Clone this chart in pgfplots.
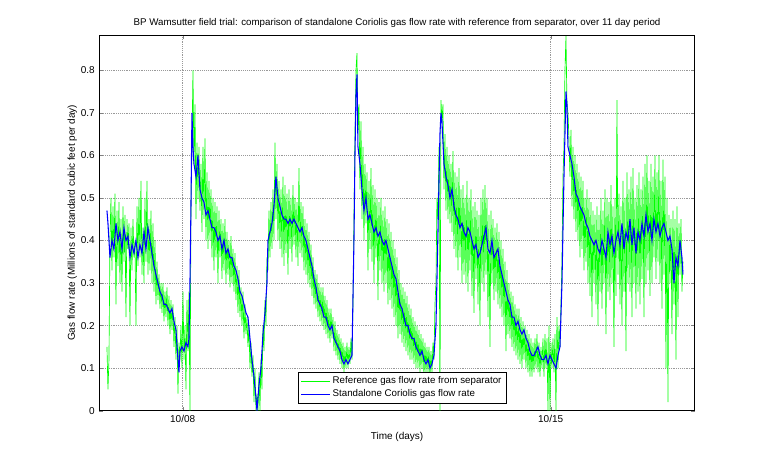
\documentclass[border=0pt]{standalone}
\usepackage{pgfplots}
\pgfplotsset{compat=1.18}
\usepackage{fontspec}
\setmainfont{Liberation Sans}
\definecolor{mgreen}{rgb}{0,1,0}
\definecolor{mblue}{rgb}{0,0,1}
\begin{document}
\begin{tikzpicture}
\useasboundingbox (0,0) rectangle (576pt,346.5pt);
\begin{axis}[
  at={(74.6pt,38.5pt)}, anchor=south west,
  scale only axis, width=446.4pt, height=281.8pt,
  xmin=99.5, xmax=694.7, ymin=0, ymax=0.883,
  xtick={182.7,550.7}, xticklabels={10/08,10/15},
  ytick={0,0.1,...,0.8},
  yticklabel style={/pgf/number format/fixed},
  /pgf/number format/assume math mode=true,
  tick align=inside, tick pos=both, major tick length=3pt,
  grid=major, grid style={densely dotted, gray!80},
  ticklabel style={font=\fontsize{7.5}{9}\selectfont},
  label style={font=\fontsize{7.5}{9}\selectfont},
  title style={font=\fontsize{7.3}{9}\selectfont, yshift=-4pt},
  xlabel={Time (days)}, ylabel={Gas flow rate (Millions of standard cubic feet per day)},
  ylabel style={yshift=-4pt},
  title={BP Wamsutter field trial: comparison of standalone Coriolis gas flow rate with reference from separator, over 11 day period},
  legend style={at={(0.334,0.018)}, anchor=south west, font=\fontsize{7.3}{8}\selectfont, draw=black, inner sep=1.5pt, row sep=-1pt},
  legend image code/.code={\draw[#1] (0cm,0cm) -- (0.75cm,0cm);},
  legend cell align=left,
  clip=true,
]
\addplot[mgreen, line width=0.5pt] coordinates {
(107,.15)(108,.05)(109,.12)(110,.40)(111,.50)(112,.33)(113,.48)(114,.36)(115,.51)(116,.25)(117,.47)(118,.34)(119,.49)(120,.30)(121,.45)(122,.28)(123,.48)(124,.35)(125,.46)(126,.22)(127,.45)(128,.38)(129,.44)(130,.20)(131,.43)(132,.33)(133,.45)(134,.36)(135,.40)(136,.20)(137,.48)(138,.34)(139,.50)(140,.36)(141,.54)(142,.32)(143,.43)(144,.30)(145,.50)(146,.35)(147,.54)(148,.32)
(149,.45)(150,.33)(151,.47)(152,.30)(153,.44)(154,.28)(155,.40)(156,.25)(157,.35)(158,.26)(159,.32)(160,.24)(161,.30)(162,.23)(163,.30)(164,.21)(165,.28)(166,.22)(167,.29)(168,.20)(169,.27)(170,.18)(171,.26)(172,.19)(173,.25)(174,.15)(175,.22)(176,.12)(177,.20)(178,.04)(179,.16)(180,.12)(181,.20)(182,.10)(183,.28)(184,.12)(185,.20)(186,.05)(187,.26)(188,.14)(189,.28)
(190,.00)(191,.48)(192,.62)(193,.80)(194,.58)(195,.72)(196,.45)(197,.63)(198,.50)(199,.62)(200,.47)(201,.58)(202,.42)(203,.62)(204,.45)(205,.64)(206,.40)(207,.56)(208,.38)(209,.54)(210,.40)(211,.52)(212,.36)(213,.50)(214,.33)(215,.49)(216,.36)(217,.48)(218,.30)(219,.47)(220,.36)(221,.45)(222,.31)(223,.44)(224,.33)(225,.45)(226,.30)(227,.42)(228,.32)(229,.40)(230,.29)(231,.41)(232,.30)(233,.38)(234,.28)(235,.37)(236,.26)(237,.34)(238,.23)(239,.33)(240,.22)(241,.29)(242,.20)(243,.28)(244,.17)(245,.25)(246,.18)(247,.22)(248,.15)(249,.20)(250,.10)(251,.16)(252,.08)(253,.13)(254,.02)(255,.10)(256,.00)(257,.04)(258,.00)(259,.09)(260,.00)(261,.12)(262,.05)(263,.20)(264,.14)(265,.26)(266,.20)(267,.36)(268,.33)(269,.47)(270,.36)(271,.49)(272,.38)(273,.52)(274,.40)(275,.63)(276,.45)(277,.58)(278,.40)(279,.54)(280,.38)(281,.52)(282,.36)(283,.55)(284,.34)(285,.53)(286,.37)(287,.51)(288,.32)(289,.52)(290,.38)(291,.50)(292,.35)(293,.53)(294,.39)(295,.50)(296,.36)(297,.49)(298,.34)(299,.57)(300,.37)(301,.49)(302,.36)(303,.48)(304,.33)(305,.45)(306,.32)(307,.44)(308,.30)(309,.42)(310,.29)(311,.39)(312,.27)(313,.36)(314,.25)(315,.33)(316,.24)(317,.32)(318,.22)(319,.30)(320,.21)(321,.29)(322,.20)(323,.29)(324,.19)(325,.27)(326,.18)(327,.26)(328,.17)(329,.24)(330,.16)(331,.24)(332,.17)(333,.22)(334,.14)(335,.21)(336,.13)(337,.19)(338,.12)(339,.18)(340,.11)(341,.17)(342,.10)(343,.16)(344,.09)(345,.15)(346,.10)(347,.16)(348,.10)(349,.15)(350,.11)(351,.17)(352,.12)(353,.25)(354,.45)(355,.65)(356,.80)(357,.84)(358,.66)(359,.72)(360,.52)(361,.68)(362,.45)(363,.62)(364,.40)(365,.58)(366,.44)(367,.56)(368,.33)(369,.54)(370,.38)(371,.57)(372,.35)(373,.53)(374,.30)(375,.52)(376,.36)(377,.50)(378,.26)(379,.49)(380,.33)(381,.50)(382,.30)(383,.47)(384,.28)(385,.48)(386,.30)(387,.45)(388,.25)(389,.44)(390,.26)(391,.42)(392,.24)(393,.40)(394,.22)(395,.38)(396,.20)(397,.36)(398,.17)(399,.33)(400,.18)(401,.30)(402,.16)(403,.29)(404,.15)(405,.28)(406,.14)(407,.27)(408,.13)(409,.25)(410,.12)(411,.24)(412,.12)(413,.22)(414,.11)(415,.21)(416,.10)(417,.20)(418,.10)(419,.19)(420,.09)(421,.18)(422,.10)(423,.17)(424,.08)(425,.16)(426,.09)(427,.15)(428,.09)(429,.15)(430,.08)(431,.14)(432,.09)(433,.16)(434,.12)(435,.25)(436,.30)(437,.50)(438,.45)(439,.62)(440,.00)(441,.73)(442,.68)(443,.72)(444,.52)(445,.65)(446,.47)(447,.62)(448,.45)(449,.60)(450,.44)(451,.58)(452,.42)(453,.61)(454,.38)(455,.56)(456,.36)(457,.55)(458,.33)(459,.57)(460,.36)(461,.52)(462,.30)(463,.53)(464,.32)(465,.50)(466,.30)(467,.54)(468,.28)(469,.50)(470,.33)(471,.52)(472,.27)(473,.48)(474,.23)(475,.49)(476,.31)(477,.47)(478,.25)(479,.46)(480,.20)(481,.50)(482,.30)(483,.52)(484,.28)(485,.53)(486,.32)(487,.50)(488,.22)(489,.46)(490,.15)(491,.47)(492,.30)(493,.45)(494,.26)(495,.43)(496,.28)(497,.44)(498,.25)(499,.42)(500,.24)(501,.40)(502,.22)(503,.38)(504,.20)(505,.35)(506,.14)(507,.33)(508,.18)(509,.30)(510,.17)(511,.28)(512,.15)(513,.27)(514,.14)(515,.25)(516,.13)(517,.24)(518,.12)(519,.24)(520,.11)(521,.22)(522,.10)(523,.21)(524,.12)(525,.20)(526,.10)(527,.19)(528,.09)(529,.18)(530,.08)(531,.17)(532,.08)(533,.16)(534,.09)(535,.17)(536,.10)(537,.18)(538,.09)(539,.16)(540,.08)(541,.15)(542,.10)(543,.17)(544,.08)(545,.18)(546,.10)(547,.17)(548,.00)(549,.20)(550,.00)(551,.16)(552,.10)(553,.17)(554,.09)(555,.18)(556,.00)(557,.22)(558,.10)(559,.20)(560,.15)(561,.25)(562,.35)(563,.55)(564,.62)(565,.80)(566,.88)(567,.72)(568,.70)(569,.64)(570,.55)(571,.66)(572,.48)(573,.62)(574,.45)(575,.60)(576,.42)(577,.58)(578,.40)(579,.56)(580,.36)(581,.55)(582,.38)(583,.54)(584,.33)(585,.50)(586,.35)(587,.52)(588,.30)(589,.50)(590,.27)(591,.49)(592,.22)(593,.47)(594,.30)(595,.46)(596,.25)(597,.48)(598,.20)(599,.46)(600,.28)(601,.50)(602,.24)(603,.47)(604,.30)(605,.52)(606,.18)(607,.50)(608,.28)(609,.49)(610,.26)(611,.53)(612,.30)(613,.48)(614,.15)(615,.50)(616,.27)(617,.73)(618,.32)(619,.51)(620,.25)(621,.48)(622,.20)(623,.54)(624,.28)(625,.50)(626,.14)(627,.56)(628,.30)(629,.52)(630,.28)(631,.55)(632,.22)(633,.57)(634,.30)(635,.50)(636,.24)(637,.53)(638,.28)(639,.56)(640,.25)(641,.52)(642,.31)(643,.55)(644,.22)(645,.58)(646,.30)(647,.60)(648,.33)(649,.54)(650,.27)(651,.58)(652,.30)(653,.55)(654,.36)(655,.60)(656,.31)(657,.56)(658,.35)(659,.60)(660,.30)(661,.54)(662,.24)(663,.59)(664,.32)(665,.55)(666,.10)(667,.50)(668,.02)(669,.46)(670,.30)(671,.45)(672,.18)(673,.47)(674,.25)(675,.45)(676,.12)(677,.48)(678,.22)(679,.44)(680,.32)(681,.45)(682,.28)(683,.35)
};
\addlegendentry{Reference gas flow rate from separator}
\addplot[mblue, line width=0.8pt] coordinates {
(107,.47)(108,.44)(110,.36)(112,.40)(114,.38)(116,.44)(118,.40)(120,.42)(122,.38)(124,.43)(126,.40)(128,.41)(130,.36)(132,.39)(134,.37)(136,.40)(138,.36)(140,.39)(142,.37)(144,.42)(146,.38)(148,.43)(150,.40)(152,.37)(154,.34)(156,.32)(158,.30)(160,.28)(162,.27)(164,.25)(166,.25)(168,.24)(170,.23)(172,.24)(174,.21)(176,.19)(178,.12)(179,.09)(180,.14)(182,.15)(184,.14)(186,.16)(188,.15)(189,.17)(190,.30)(191,.48)(192,.70)(193,.62)(194,.58)(196,.55)(198,.60)(200,.52)(202,.50)(204,.49)(206,.46)(208,.47)(210,.45)(212,.43)(214,.43)(216,.42)(218,.40)(220,.41)(222,.38)(224,.40)(226,.37)(228,.38)(230,.36)(232,.36)(234,.34)(236,.33)(238,.31)(240,.28)(242,.27)(244,.25)(246,.23)(248,.22)(250,.17)(252,.12)(254,.08)(256,.03)(257,.00)(259,.06)(261,.10)(263,.18)(265,.23)(267,.30)(268,.40)(270,.42)(272,.44)(274,.48)(276,.55)(278,.50)(280,.48)(282,.46)(284,.45)(286,.45)(288,.44)(290,.45)(292,.44)(294,.45)(296,.44)(298,.43)(300,.42)(302,.43)(304,.41)(306,.40)(308,.38)(310,.36)(312,.34)(314,.31)(316,.29)(318,.26)(320,.25)(322,.24)(324,.22)(326,.22)(328,.20)(330,.19)(332,.20)(334,.17)(336,.16)(338,.15)(340,.14)(342,.12)(344,.11)(346,.12)(348,.11)(350,.12)(352,.13)(354,.40)(355,.60)(356,.74)(357,.79)(358,.62)(360,.58)(362,.52)(364,.47)(366,.50)(368,.45)(370,.46)(372,.44)(374,.42)(376,.43)(378,.41)(380,.42)(382,.40)(384,.39)(386,.40)(388,.38)(390,.36)(392,.34)(394,.32)(396,.31)(398,.28)(400,.25)(402,.24)(404,.22)(406,.20)(408,.20)(410,.18)(412,.17)(414,.17)(416,.15)(418,.14)(420,.13)(422,.14)(424,.12)(426,.11)(428,.12)(430,.10)(432,.11)(434,.13)(436,.20)(438,.42)(440,.65)(441,.70)(442,.68)(444,.58)(446,.55)(448,.53)(450,.50)(452,.52)(454,.48)(456,.46)(458,.45)(460,.43)(462,.44)(464,.42)(466,.41)(468,.43)(470,.42)(472,.40)(474,.38)(476,.39)(478,.36)(480,.37)(482,.39)(484,.41)(486,.43)(488,.38)(490,.37)(492,.40)(494,.36)(496,.37)(498,.38)(500,.34)(502,.32)(504,.30)(506,.28)(508,.26)(510,.25)(512,.22)(514,.22)(516,.20)(518,.21)(520,.19)(522,.18)(524,.19)(526,.17)(528,.16)(530,.14)(532,.13)(534,.13)(536,.14)(538,.15)(540,.13)(542,.12)(544,.12)(546,.13)(548,.11)(550,.13)(552,.12)(554,.11)(556,.10)(558,.13)(560,.15)(562,.30)(564,.55)(566,.75)(567,.72)(568,.62)(570,.60)(572,.58)(574,.55)(576,.51)(578,.50)(580,.48)(582,.47)(584,.46)(586,.44)(588,.43)(590,.41)(592,.40)(594,.39)(596,.40)(598,.38)(600,.37)(602,.40)(604,.38)(606,.36)(608,.42)(610,.39)(612,.41)(614,.37)(616,.40)(618,.42)(620,.39)(622,.44)(624,.38)(626,.42)(628,.40)(630,.45)(632,.39)(634,.43)(636,.37)(638,.42)(640,.40)(642,.44)(644,.41)(646,.46)(648,.42)(650,.44)(652,.40)(654,.45)(656,.42)(658,.44)(660,.41)(662,.43)(664,.44)(666,.42)(668,.40)(670,.41)(672,.38)(674,.30)(676,.36)(678,.34)(680,.40)(682,.36)(683,.32)
};
\addlegendentry{Standalone Coriolis gas flow rate}
\end{axis}
\end{tikzpicture}
\end{document}
